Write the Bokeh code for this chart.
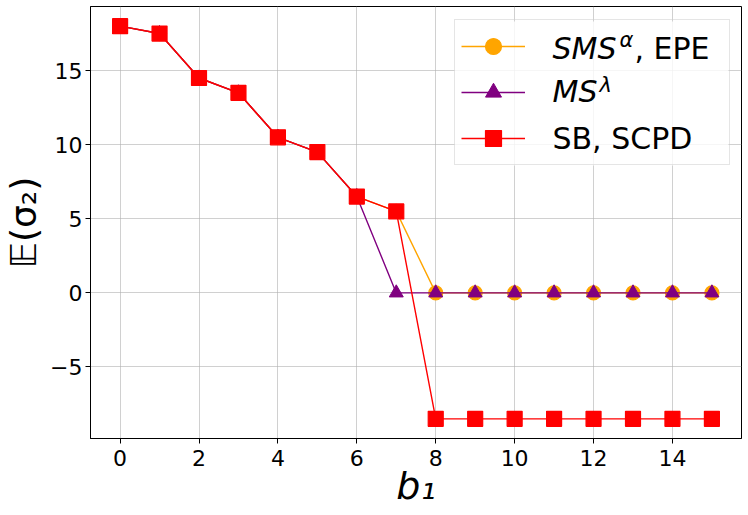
from bokeh.plotting import figure
from bokeh.models import Range1d, FixedTicker, Legend, LegendItem, Label, BoxAnnotation
from bokeh.embed import file_html
from bokeh.resources import INLINE

# ---- data ----
b1 = [0, 1, 2, 3, 4, 5, 6, 7, 8, 9, 10, 11, 12, 13, 14, 15]
sms_epe = [18, 17.5, 14.5, 13.5, 10.5, 9.5, 6.5, 5.5, 0, 0, 0, 0, 0, 0, 0, 0]
ms_lambda = [18, 17.5, 14.5, 13.5, 10.5, 9.5, 6.5, 0, 0, 0, 0, 0, 0, 0, 0, 0]
sb_scpd = [18, 17.5, 14.5, 13.5, 10.5, 9.5, 6.5, 5.5, -8.5, -8.5, -8.5, -8.5, -8.5, -8.5, -8.5, -8.5]
x_ticks = [0, 2, 4, 6, 8, 10, 12, 14]
y_ticks = [-5, 0, 5, 10, 15]
x_label = "b₁"
y_label = "𝔼(σ₂)"

FONT = "DejaVu Sans"

p = figure(width=747, height=514, output_backend="svg", toolbar_location=None,
           x_range=Range1d(-0.75, 15.75), y_range=Range1d(-9.825, 19.325),
           min_border_left=88, min_border_right=6, min_border_top=6, min_border_bottom=76)
p.background_fill_color = "white"
p.border_fill_color = "white"
p.outline_line_color = "black"
p.outline_line_width = 1

# lines + markers, in matplotlib draw order
o_line = p.line(b1, sms_epe, line_color="orange", line_width=1.4)
o_pts = p.scatter(b1, sms_epe, marker="circle", size=14, fill_color="orange",
                  line_color="orange", line_width=1.2)
m_line = p.line(b1, ms_lambda, line_color="purple", line_width=1.4)
m_pts = p.scatter(b1, ms_lambda, marker="triangle", size=14, fill_color="purple",
                  line_color="purple", line_width=1)
r_line = p.line(b1, sb_scpd, line_color="red", line_width=1.4)
r_pts = p.scatter(b1, sb_scpd, marker="square", size=15, fill_color="red",
                  line_color="red", line_width=1.2)

# axes
for ax in (p.xaxis[0], p.yaxis[0]):
    ax.major_label_text_font = FONT
    ax.major_label_text_font_size = "22px"
    ax.major_label_text_color = "black"
    ax.major_tick_in = 0
    ax.major_tick_out = 5
    ax.major_tick_line_color = "black"
    ax.minor_tick_line_color = None
    ax.axis_line_color = "black"
    ax.axis_label_text_font = FONT
    ax.axis_label_text_color = "black"

p.xaxis.ticker = FixedTicker(ticks=x_ticks)
p.yaxis.ticker = FixedTicker(ticks=y_ticks)
p.yaxis.major_label_overrides = {-5: "−5"}
p.xaxis.major_label_standoff = 6
p.yaxis.major_label_standoff = 3

p.xaxis.axis_label = x_label
p.xaxis.axis_label_text_font_size = "38px"
p.xaxis.axis_label_text_font_style = "italic"
p.xaxis.axis_label_standoff = -5

p.yaxis.axis_label = y_label
p.yaxis.axis_label_text_font_size = "36px"
p.yaxis.axis_label_text_font_style = "normal"
p.yaxis.axis_label_standoff = 3

p.xgrid.ticker = FixedTicker(ticks=x_ticks)
p.ygrid.ticker = FixedTicker(ticks=y_ticks)
for g in (p.xgrid[0], p.ygrid[0]):
    g.grid_line_color = "#b0b0b0"
    g.grid_line_alpha = 0.6
    g.grid_line_width = 1

# legend background panel (semi-transparent white, under the texts)
panel = BoxAnnotation(left=364, right=638, bottom=273, top=417,
                      left_units="screen", right_units="screen",
                      bottom_units="screen", top_units="screen",
                      fill_color="white", fill_alpha=0.8, line_color=None,
                      border_radius=4, level="underlay")
p.add_layout(panel)

# legend (border + samples), texts overlaid as labels
legend = Legend(items=[
    LegendItem(label="\u00a0", renderers=[o_line, o_pts]),
    LegendItem(label="\u00a0", renderers=[m_line, m_pts]),
    LegendItem(label="\u00a0", renderers=[r_line, r_pts]),
], location=(364, 273), glyph_width=64, glyph_height=40, spacing=6, padding=6,
    label_standoff=30, label_width=168, label_text_font_size="8px",
    border_line_color="#cccccc", border_line_width=1,
    background_fill_color="white", background_fill_alpha=0.0)
p.add_layout(legend)

def lab(x, y, t, size, style="normal"):
    p.add_layout(Label(x=x, y=y, x_units="screen", y_units="screen", text=t,
                       text_font=FONT, text_font_size=size, text_font_style=style,
                       text_color="black", text_baseline="middle", text_align="left",
                       level="overlay"))

# row 1
lab(462, 390, "SMS", "30px", "italic")
lab(529, 399, "α", "21px", "italic")
lab(544, 390, ", EPE", "30px")
# row 2
lab(462, 347, "MS", "30px", "italic")
lab(509, 354, "λ", "21px", "italic")
# row 3
lab(462, 300, "SB, SCPD", "30px")

open("out.html", "w").write(file_html(p, INLINE))
